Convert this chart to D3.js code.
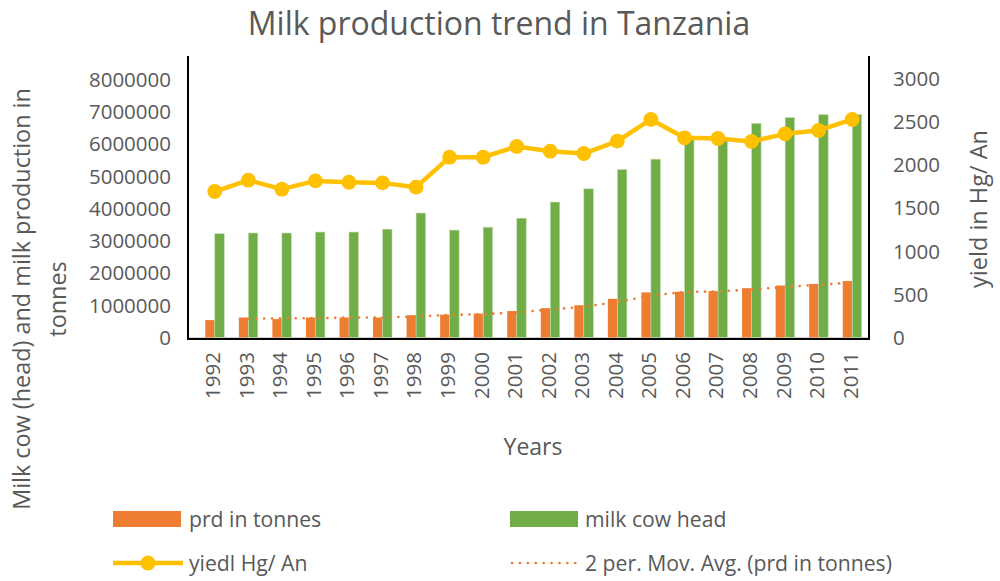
<!DOCTYPE html>
<html><head><meta charset="utf-8">
<script src="https://cdn.jsdelivr.net/npm/d3@7"></script>
<style>body{margin:0;background:#fff}svg{display:block}text{font-family:"Open Sans",Lato,sans-serif;fill:#595959}</style>
</head><body><svg id="c" width="1000" height="581"></svg>
<script>
const years = ["1992","1993","1994","1995","1996","1997","1998","1999","2000","2001","2002","2003","2004","2005","2006","2007","2008","2009","2010","2011"];
const prdTonnes = [540000,620000,570000,620000,620000,620000,690000,710000,740000,820000,910000,1000000,1200000,1400000,1420000,1440000,1530000,1610000,1660000,1750000];
const milkCowHead = [3220000,3240000,3240000,3270000,3270000,3360000,3860000,3330000,3420000,3700000,4200000,4610000,5210000,5530000,6200000,6150000,6640000,6820000,6910000,6910000];
const yieldHgAn = [1691,1822,1718,1814,1799,1791,1741,2089,2089,2213,2158,2131,2275,2526,2313,2305,2271,2359,2398,2526];
const leftTicks = [0,1000000,2000000,3000000,4000000,5000000,6000000,7000000,8000000];
const rightTicks = [0,500,1000,1500,2000,2500,3000];

const svg = d3.select("#c");
const ORANGE="#ED7D31", GREEN="#70AD47", GOLD="#FFC000";

const x = d3.scaleBand().domain(years).range([198,869]).padding(0);
const barW = 9.5;
const x1 = d3.scaleBand().domain(["prd","cow"]).range([x.bandwidth()/2-barW, x.bandwidth()/2+barW]);
const yL = d3.scaleLinear().domain([0,8000000]).range([337.5,79.5]);
const yR = d3.scaleLinear().domain([0,3000]).range([337.5,78.5]);

// title
svg.append("text").attr("x",499).attr("y",35).attr("text-anchor","middle").style("font-size","32px").text("Milk production trend in Tanzania");

// base axis line (gray)
svg.append("line").attr("x1",188).attr("x2",869).attr("y1",337.5).attr("y2",337.5).attr("stroke","#d0d0d0").attr("stroke-width",1);

// bars
const g = svg.append("g");
g.selectAll("rect.prd").data(years).join("rect").attr("class","prd")
  .attr("x",d=>x(d)+x1("prd")).attr("width",x1.bandwidth())
  .attr("y",(d,i)=>yL(prdTonnes[i])).attr("height",(d,i)=>yL(0)-yL(prdTonnes[i])).attr("fill",ORANGE);
g.selectAll("rect.cow").data(years).join("rect").attr("class","cow")
  .attr("x",d=>x(d)+x1("cow")).attr("width",x1.bandwidth())
  .attr("y",(d,i)=>yL(milkCowHead[i])).attr("height",(d,i)=>yL(0)-yL(milkCowHead[i])).attr("fill",GREEN)
  .attr("stroke","#c5e0b4").attr("stroke-width",0.6);

// moving average (2 period) of prd
const ma = years.map((d,i)=> i===0?null:{y:d, v:(prdTonnes[i]+prdTonnes[i-1])/2}).filter(d=>d);
const cx = d=>x(d)+x.bandwidth()/2;
svg.append("path").datum(ma)
  .attr("d",d3.line().x(d=>cx(d.y)).y(d=>yL(d.v)))
  .attr("fill","none").attr("stroke",ORANGE).attr("stroke-width",2.6)
  .attr("stroke-dasharray","0.1 7.8").attr("stroke-linecap","round");

// yield line
svg.append("path").datum(yieldHgAn)
  .attr("d",d3.line().x((d,i)=>cx(years[i])).y(d=>yR(d)))
  .attr("fill","none").attr("stroke",GOLD).attr("stroke-width",4.5).attr("stroke-linejoin","round");
svg.selectAll("circle.yl").data(yieldHgAn).join("circle").attr("class","yl")
  .attr("cx",(d,i)=>cx(years[i])).attr("cy",d=>yR(d)).attr("r",7.4).attr("fill",GOLD);

// frame
svg.append("path").attr("d","M188,56V339H869V56").attr("fill","none").attr("stroke","#000").attr("stroke-width",2);

// left ticks
svg.append("g").selectAll("text").data(leftTicks).join("text")
  .attr("x",171).attr("y",d=>yL(d)).attr("dy","0.36em").attr("text-anchor","end")
  .style("font-size","20.5px").text(d=>d3.format("d")(d));
// right ticks
svg.append("g").selectAll("text").data(rightTicks).join("text")
  .attr("x",893).attr("y",d=>yR(d)).attr("dy","0.36em").attr("text-anchor","start")
  .style("font-size","20.5px").text(d=>d);
// year labels
svg.append("g").selectAll("text").data(years).join("text")
  .attr("transform",d=>`translate(${cx(d)-2},352) rotate(-90)`).attr("dy","0.36em")
  .attr("text-anchor","end").style("font-size","20.5px").text(d=>d);

// axis titles
svg.append("text").attr("transform","translate(533,447)").attr("dy","0.36em").attr("text-anchor","middle").style("font-size","23px").text("Years");
const lt = svg.append("text").attr("transform","translate(22,299) rotate(-90)").attr("text-anchor","middle").style("font-size","23.4px");
lt.append("tspan").attr("x",0).attr("dy","0.36em").text("Milk cow (head) and milk production in");
lt.append("tspan").attr("x",0).attr("dy","1.5em").text("tonnes");
svg.append("text").attr("transform","translate(979,209) rotate(-90)").attr("dy","0.36em").attr("text-anchor","middle").style("font-size","23.5px").text("yield in Hg/ An");

// legend
const leg = svg.append("g");
leg.append("rect").attr("x",113).attr("y",511).attr("width",68).attr("height",16).attr("fill",ORANGE);
leg.append("text").attr("x",189).attr("y",519).attr("dy","0.36em").style("font-size","21.2px").text("prd in tonnes");
leg.append("rect").attr("x",510).attr("y",511).attr("width",68).attr("height",16).attr("fill",GREEN);
leg.append("text").attr("x",585).attr("y",519).attr("dy","0.36em").style("font-size","21.2px").text("milk cow head");
leg.append("line").attr("x1",113).attr("x2",183).attr("y1",563).attr("y2",563).attr("stroke",GOLD).attr("stroke-width",4.5);
leg.append("circle").attr("cx",148).attr("cy",563).attr("r",7.4).attr("fill",GOLD);
leg.append("text").attr("x",189).attr("y",563).attr("dy","0.36em").style("font-size","21.2px").text("yiedl Hg/ An");
leg.append("line").attr("x1",512).attr("x2",578).attr("y1",563).attr("y2",563).attr("stroke",ORANGE).attr("stroke-width",2.6).attr("stroke-dasharray","0.1 7.8").attr("stroke-linecap","round");
leg.append("text").attr("x",585).attr("y",563).attr("dy","0.36em").style("font-size","21.2px").text("2 per. Mov. Avg. (prd in tonnes)");
</script></body></html>
